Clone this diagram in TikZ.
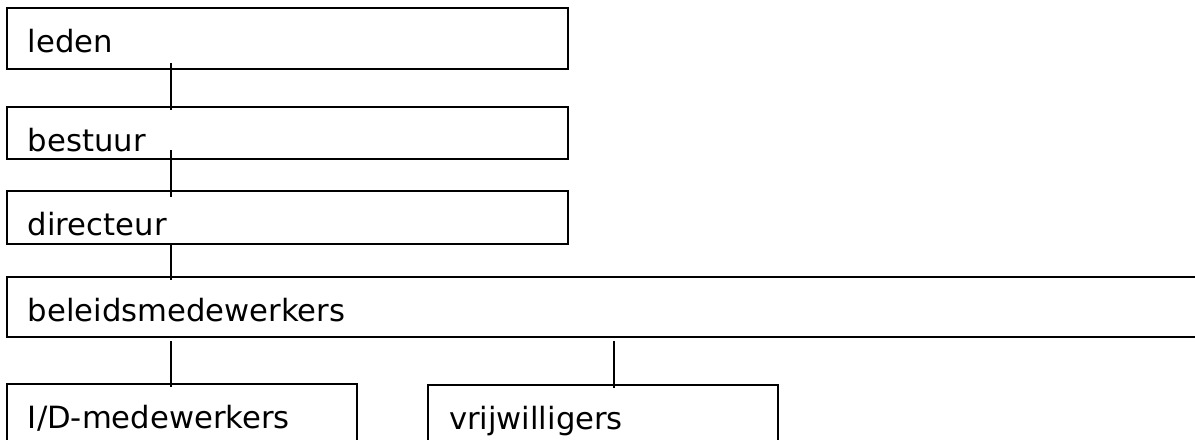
\documentclass[tikz,border=0pt]{standalone}
\usepackage{fontspec}
\setmainfont{DejaVu Sans}
\usepackage{tikz}
\usetikzlibrary{positioning}

\begin{document}
\begin{tikzpicture}[font=\fontsize{23}{27}\selectfont,
    box/.style={draw, rectangle, line width=1.4pt, outer sep=0pt,
        inner xsep=15.75pt, inner ysep=0pt, text height=33pt, align=left},
    link/.style={line width=1.1pt}]
        \clip (-5.25pt,6pt) rectangle (891pt,-323.25pt);
        \node[box, anchor=north west, text width=389.25pt, text depth=12.75pt] (leden) at (0,0) {leden};
        \node[box, text width=389.25pt, text depth=6pt] [below = 28.5pt of leden.south west, anchor=north west] (bestuur) {bestuur};
        \node[box, text width=389.25pt, text depth=6.75pt] [below = 24pt of bestuur.south west, anchor=north west] (directeur) {directeur};
        \node[box, text width=878.25pt, text depth=12pt] [below = 24.75pt of directeur.south west, anchor=north west] (beleid) {beleidsmedewerkers};
        \node[box, text width=231pt, text depth=28.5pt] [below = 35.25pt of beleid.south west, anchor=north west] (idmw) {I/D-medewerkers};
        \node[box, text width=231pt, text depth=28.5pt] [right = 53.25pt of idmw.north east, anchor=north west, yshift=-0.75pt] (vrijw) {vrijwilligers};
	\draw[link] ([shift={(123pt,4.5pt)}]leden.south west) -- ([shift={(123pt,-2.25pt)}]bestuur.north west);
	\draw[link] ([shift={(123pt,6.75pt)}]bestuur.south west) -- ([shift={(123pt,-4.5pt)}]directeur.north west);
	\draw[link] ([shift={(123pt,0pt)}]directeur.south west) -- ([shift={(123pt,-2.25pt)}]beleid.north west);
	\draw[link] ([shift={(123pt,-3pt)}]beleid.south west) -- ([shift={(123pt,-2.25pt)}]idmw.north west);
	\draw[link] ([shift={(455.25pt,-3pt)}]beleid.south west) -- ([shift={(139.5pt,-2.25pt)}]vrijw.north west);
    \end{tikzpicture}
\end{document}
